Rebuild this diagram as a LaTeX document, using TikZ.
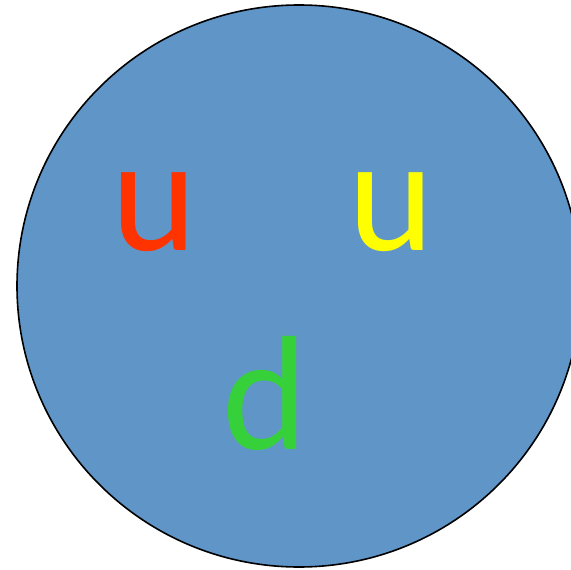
\documentclass[tikz,border=0pt]{standalone}
\usepackage{fontspec}
\setmainfont{Carlito}
\usetikzlibrary{shapes.geometric}
\definecolor{ballblue}{HTML}{6095C8}
\definecolor{qred}{HTML}{FF3300}
\definecolor{qyellow}{HTML}{FFFF00}
\definecolor{qgreen}{HTML}{36D13A}
\tikzset{quark/.style={inner sep=0pt, anchor=base, font=\fontsize{163}{163}\selectfont}}
\begin{document}
\begin{tikzpicture}[x=1pt,y=-1pt]
\useasboundingbox (0,0) rectangle (571,570);
\begin{scope}
\clip (0,0) rectangle (571,570);
\node[draw=black, line width=1.6pt, fill=ballblue, ellipse, minimum width=564pt, minimum height=562pt, inner sep=0pt] (ball) at (299,286) {};
\end{scope}
\node[quark, text=qred] (u1) at (154,250) {u};
\node[quark, text=qyellow] (u2) at (391,250) {u};
\node[quark, text=qgreen] (d) at (265,449) {d};
\end{tikzpicture}
\end{document}
